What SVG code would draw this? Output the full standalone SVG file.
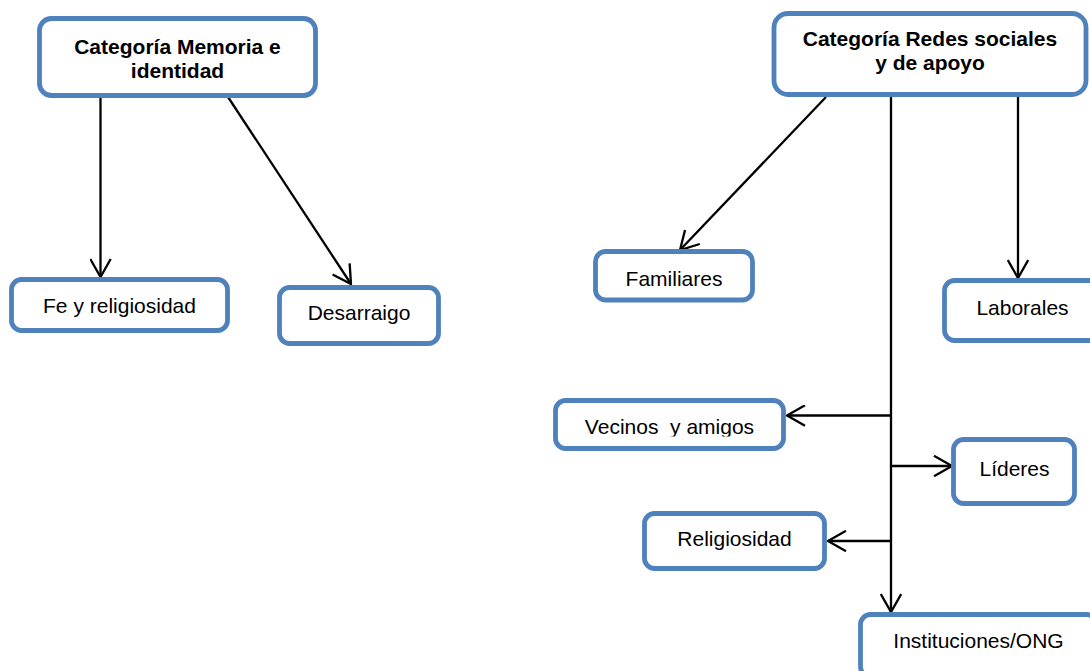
<svg xmlns="http://www.w3.org/2000/svg" width="1090" height="671" viewBox="0 0 1090 671">
<style>
.box{fill:#fff;stroke:#4F81BD;stroke-width:4.8}
.t{font-family:"Liberation Sans",Arial,sans-serif;font-size:21px;fill:#000;text-anchor:middle}
.b{font-weight:bold}
.c{fill:none;stroke:#000;stroke-width:2.3}
</style>
<defs>
<marker id="ah" viewBox="0 0 20 22" refX="19" refY="11" markerWidth="20" markerHeight="22" markerUnits="userSpaceOnUse" orient="auto">
<path d="M1,0.8 L19,11 L1,21.2" fill="none" stroke="#000" stroke-width="2.3"/>
</marker>
<clipPath id="vclip"><rect x="555" y="398" width="230" height="38.5"/></clipPath>
</defs>
<rect width="1090" height="671" fill="#fff"/>
<g id="connectors">
<line class="c" x1="100.5" y1="97" x2="100.5" y2="277" marker-end="url(#ah)"/>
<line class="c" x1="228" y1="97" x2="351" y2="284" marker-end="url(#ah)"/>
<line class="c" x1="826" y1="97" x2="680" y2="250" marker-end="url(#ah)"/>
<line class="c" x1="891" y1="96" x2="891" y2="612" marker-end="url(#ah)"/>
<line class="c" x1="1018" y1="96" x2="1018" y2="278" marker-end="url(#ah)"/>
<line class="c" x1="891" y1="415.5" x2="787" y2="415.5" marker-end="url(#ah)"/>
<line class="c" x1="891" y1="466" x2="952" y2="466" marker-end="url(#ah)"/>
<line class="c" x1="891" y1="541" x2="828" y2="541" marker-end="url(#ah)"/>
</g>
<g id="memoria">
<rect class="box" x="39.5" y="18.5" width="276" height="77" rx="12"/>
<text class="t b" x="177.5" y="54">Categoría Memoria e</text>
<text class="t b" x="177.5" y="78">identidad</text>
</g>
<g id="redes">
<rect class="box" x="774" y="13.5" width="312" height="81" rx="14"/>
<text class="t b" x="930" y="46">Categoría Redes sociales</text>
<text class="t b" x="930" y="70">y de apoyo</text>
</g>
<g id="fe">
<rect class="box" x="11.5" y="279.5" width="216" height="51" rx="10"/>
<text class="t" x="119.5" y="313">Fe y religiosidad</text>
</g>
<g id="desarraigo">
<rect class="box" x="279.5" y="287.5" width="159" height="56" rx="10"/>
<text class="t" x="359" y="320">Desarraigo</text>
</g>
<g id="familiares">
<rect class="box" x="595.5" y="251.5" width="157" height="48.5" rx="10"/>
<text class="t" x="674" y="286">Familiares</text>
</g>
<g id="laborales">
<rect class="box" x="944.5" y="280.5" width="157" height="60" rx="10"/>
<text class="t" x="1022.5" y="315">Laborales</text>
</g>
<g id="vecinos">
<rect class="box" x="555.5" y="400.5" width="228" height="48" rx="10"/>
<text class="t" x="669.5" y="434" clip-path="url(#vclip)" style="white-space:pre">Vecinos  y amigos</text>
</g>
<g id="lideres">
<rect class="box" x="953.5" y="439.5" width="121" height="64" rx="10"/>
<text class="t" x="1014.5" y="476">Líderes</text>
</g>
<g id="religiosidad">
<rect class="box" x="644.5" y="513.5" width="180" height="55" rx="10"/>
<text class="t" x="734.5" y="546">Religiosidad</text>
</g>
<g id="instituciones">
<rect class="box" x="860.5" y="614.5" width="236" height="62" rx="10"/>
<text class="t" x="978.5" y="648">Instituciones/ONG</text>
</g>
</svg>
